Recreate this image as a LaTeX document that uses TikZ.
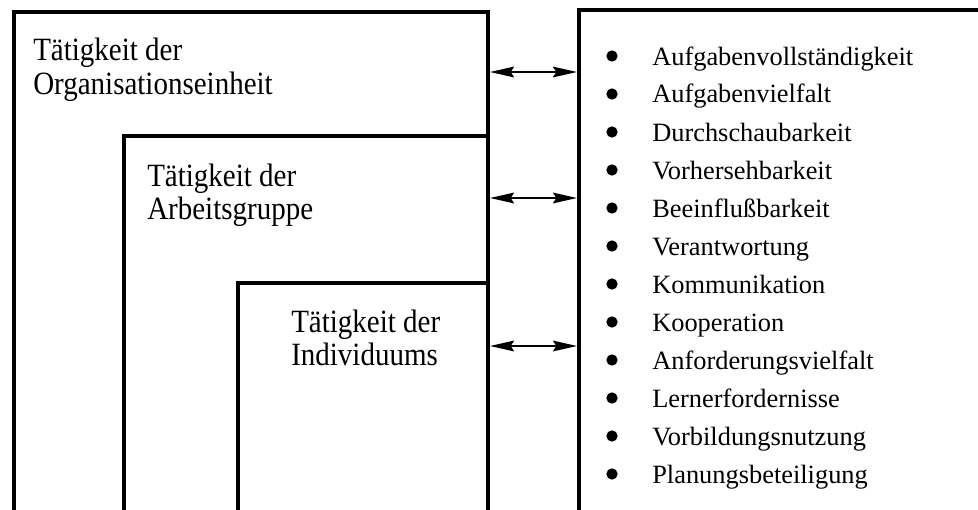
\documentclass[tikz,border=0pt]{standalone}
\usepackage{fontspec}
\setmainfont{Liberation Serif}
\usetikzlibrary{arrows.meta}
\begin{document}
\begin{tikzpicture}[x=0.75pt,y=-0.75pt,
  frame/.style={line width=3pt, line join=miter, line cap=butt},
  link/.style={line width=1.5pt,
    {Stealth[length=18pt,width=8pt,inset=2.5pt]}-{Stealth[length=18pt,width=8pt,inset=2.5pt]}},
  levellabel/.style={anchor=base west, inner sep=0pt,
    font=\fontsize{21.75pt}{24.75pt}\selectfont},
  listitem/.style={anchor=base west, inner sep=0pt,
    font=\fontsize{19.8pt}{23pt}\selectfont},
  dot/.style={circle, fill, inner sep=0pt, minimum size=8.5pt}]
\useasboundingbox (0,0) rectangle (978,510);

% corners of the three nested activity levels and of the criteria frame
\coordinate (org-bl) at (14,510);  \coordinate (org-tl) at (14,12);
\coordinate (org-tr) at (488,12);  \coordinate (org-br) at (488,510);
\coordinate (grp-bl) at (124,510); \coordinate (grp-tl) at (124,136);
\coordinate (grp-tr) at (488,136);
\coordinate (ind-bl) at (238,510); \coordinate (ind-tl) at (238,283);
\coordinate (ind-tr) at (488,283);
\coordinate (crit-tr) at (978,10); \coordinate (crit-tl) at (579,10);
\coordinate (crit-bl) at (579,510);

\draw[frame] (org-bl) -- (org-tl) -- (org-tr) -- (org-br);
\draw[frame] (grp-bl) -- (grp-tl) -- (grp-tr);
\draw[frame] (ind-bl) -- (ind-tl) -- (ind-tr);
\draw[frame] (crit-tr) -- (crit-tl) -- (crit-bl);

% level labels, one node per line, set slightly tall
\foreach \n/\x/\y/\second in {org/33/61/Organisationseinheit,
                              grp/147/186/Arbeitsgruppe,
                              ind/291/332/Individuums} {
  \node[levellabel] (lab-\n-1) at (\x,\y) {\scalebox{1}[1.12]{Tätigkeit der}};
  \node[levellabel] (lab-\n-2) at (\x,\y+33) {\scalebox{1}[1.12]{\second}};
}

% links between the levels and the criteria
\foreach \n/\y in {org/72, grp/198, ind/346} {
  \coordinate (\n-out) at (490,\y);
  \coordinate (\n-in) at (577,\y);
  \draw[link] (\n-out) -- (\n-in);
}

% criteria list
\foreach \t [count=\i from 0] in {Aufgabenvollständigkeit, Aufgabenvielfalt,
    Durchschaubarkeit, Vorhersehbarkeit, Beeinflußbarkeit, Verantwortung,
    Kommunikation, Kooperation, Anforderungsvielfalt, Lernerfordernisse,
    Vorbildungsnutzung, Planungsbeteiligung} {
  \node[dot] (bul-\i) at (612,{65+38*\i-9}) {};
  \node[listitem] (item-\i) at (652,{65+38*\i}) {\t};
}
\end{tikzpicture}
\end{document}
